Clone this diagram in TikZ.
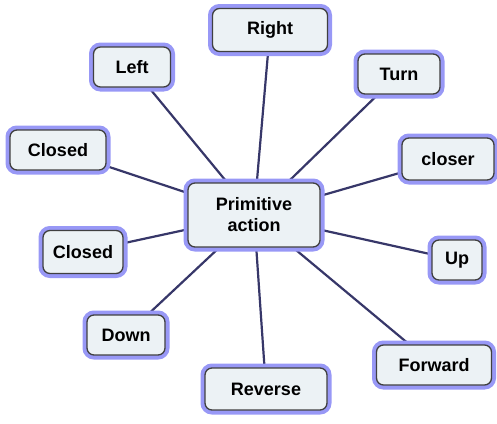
\documentclass[tikz,border=0pt]{standalone}
\usepackage{fontspec}
\setmainfont{Liberation Sans}
\usetikzlibrary{backgrounds}
\definecolor{boxfill}{RGB}{236,242,245}
\definecolor{glow}{RGB}{152,152,246}
\definecolor{linkcol}{RGB}{55,55,105}

\tikzset{
  concept/.style={rectangle, rounded corners=7pt, draw=black!75, line width=1.3pt,
    fill=boxfill, inner sep=0pt, align=center,
    font=\bfseries\fontsize{18}{21}\selectfont,
    preaction={draw=glow, line width=9pt}},
  link/.style={draw=linkcol, line width=2.2pt}
}

\begin{document}
\begin{tikzpicture}[x=1pt,y=-1pt]
		\useasboundingbox (0,0) rectangle (497,423);
		\node[concept, minimum width=132pt, minimum height=64pt] (prim) at (254,215) {Primitive\\action};
		\node[concept, minimum width=115pt, minimum height=43pt] (right) at (270,30) {Right};
		\node[concept, minimum width=77pt, minimum height=40pt] (left) at (132,67) {Left};
		\node[concept, minimum width=82pt, minimum height=40pt] (turn) at (399,74) {Turn};
		\node[concept, minimum width=96pt, minimum height=40pt] (closedtop) at (58,150) {Closed};
		\node[concept, minimum width=92pt, minimum height=42pt] (closer) at (448,159) {closer};
		\node[concept, minimum width=80pt, minimum height=43pt] (closedbot) at (83,252) {Closed};
		\node[concept, minimum width=50pt, minimum height=40pt] (up) at (457,260) {Up};
		\node[concept, minimum width=78pt, minimum height=40pt] (down) at (126,335) {Down};
		\node[concept, minimum width=115pt, minimum height=40pt] (fwd) at (434,365) {Forward};
		\node[concept, minimum width=122pt, minimum height=42pt] (rev) at (266,389) {Reverse};
		% spokes behind the boxes
		\begin{scope}[on background layer]
		\foreach \n in {right,left,turn,closedtop,closer,closedbot,up,down,fwd,rev}
			\draw[link] (prim.center) -- (\n.center);
		\end{scope}
	\end{tikzpicture}
\end{document}
